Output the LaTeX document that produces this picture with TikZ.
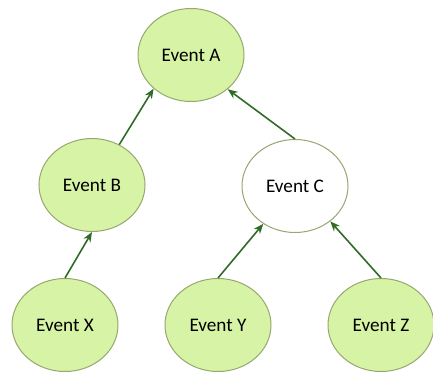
\documentclass[tikz,border=0pt]{standalone}
\usepackage{fontspec}
\setmainfont{Carlito}
\usetikzlibrary{arrows.meta,shapes.geometric}
\definecolor{leafgreen}{RGB}{215,243,165}
\definecolor{rimgreen}{RGB}{150,168,112}
\definecolor{arrowgreen}{RGB}{48,108,40}

\begin{document}
\begin{tikzpicture}[x=0.5pt,y=-0.5pt,>={Stealth[length=5pt,width=4pt]},
  event/.style={ellipse,draw=rimgreen,line width=0.5pt,fill=leafgreen,
    minimum width=53pt,minimum height=46.5pt,inner sep=0pt,font=\fontsize{9.6}{11}\selectfont},
  link/.style={->,arrowgreen,line width=0.8pt}]
\useasboundingbox (0,0) rectangle (433,374);
% top level
\node[event] (eva) at (191,55) {Event A};
% middle level
\node[event] (evb) at (92,185) {Event B};
\node[event,fill=white] (evc) at (295,186) {Event C};
% bottom level
\node[event] (evx) at (65,325) {Event X};
\node[event] (evy) at (218,325) {Event Y};
\node[event] (evz) at (381,325) {Event Z};
% arrows
\draw[link] (evb.56) -- (eva.222);
\draw[link] (evc.north) -- (eva.317);
\draw[link] (evx.north) -- (evb.south);
\draw[link] (evy.north) -- (evc.230);
\draw[link] (evz.north) -- (evc.315);
\end{tikzpicture}
\end{document}
